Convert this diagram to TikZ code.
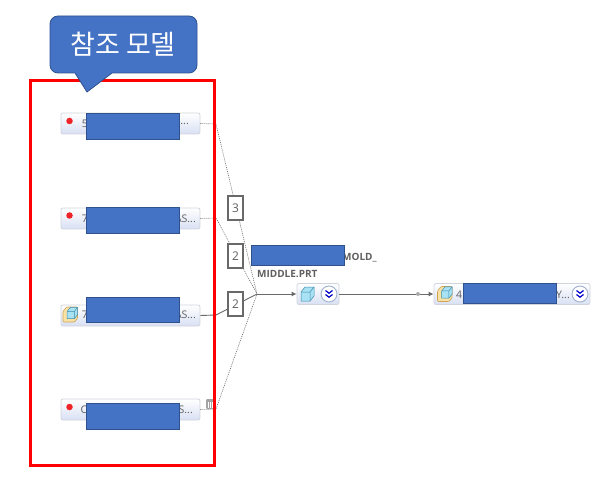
\documentclass[tikz,border=0pt]{standalone}
\usepackage{fontspec}
\setmainfont{Open Sans}
\newfontfamily\korfont{Noto Sans CJK KR}
\usetikzlibrary{arrows.meta}
\definecolor{HideBlue}{RGB}{68,114,196}
\definecolor{HideEdge}{RGB}{47,82,143}
\definecolor{PillEdge}{RGB}{208,212,220}
\definecolor{PillEnd}{RGB}{216,224,243}
\definecolor{LineGray}{RGB}{105,105,105}
\definecolor{TextGray}{RGB}{95,95,95}
\definecolor{DotRed}{RGB}{238,36,40}
\definecolor{CubeBlue}{RGB}{170,226,245}
\definecolor{CubeEdge}{RGB}{60,140,170}
\definecolor{PartYellow}{RGB}{250,226,165}
\definecolor{PartEdge}{RGB}{205,165,85}
\tikzset{pill/.style={draw=PillEdge,line width=0.8pt,rounded corners=2pt,top color=white,bottom color=PillEnd,minimum height=21pt,inner sep=0pt},
hide/.style={draw=HideEdge,line width=0.8pt,fill=HideBlue,minimum width=93pt,inner sep=0pt},
count/.style={draw=LineGray,line width=1.1pt,fill=white,minimum width=15pt,minimum height=24pt,inner sep=0pt,font=\fontsize{12}{12}\selectfont,text=TextGray},
lab/.style={inner sep=0pt,font=\fontsize{10.5}{12}\selectfont,text=TextGray},
dep/.style={draw=LineGray,line width=0.6pt,dash pattern=on 1pt off 1pt},
link/.style={draw=LineGray,line width=0.9pt},
flow/.style={draw=LineGray,line width=0.9pt,-{Latex[length=5pt,width=5pt]}},
reddot/.style={circle,fill=DotRed,minimum size=6.5pt,inner sep=0pt},
cube/.pic={\fill[CubeBlue,draw=CubeEdge,line width=0.5pt] (-6,-2) -- (-2,-7) -- (7,-7) -- (7,2) -- (3,7) -- (-6,7) -- cycle;
\draw[CubeEdge,line width=0.5pt] (-6,-2) -- (3,-2) -- (3,7) (3,-2) -- (7,-7);},
part/.pic={\fill[PartYellow,draw=PartEdge,line width=0.6pt,rounded corners=1pt] (-7.5,-3) -- (-4,-7.5) -- (7,-7.5) -- (7,4) -- (4,7.5) -- (-7.5,7.5) -- cycle;
\pic[scale=0.8] at (1.5,-1.5) {cube};},
chevron/.pic={\draw[HideEdge!45!white,fill=white,line width=0.9pt] (0,0) circle (8);
\draw[blue!80!black,line width=1.2pt] (-3.5,-3.5) -- (0,-0.8) -- (3.5,-3.5) (-3.5,0.5) -- (0,3.2) -- (3.5,0.5);}}
\begin{document}
\begin{tikzpicture}[x=1pt,y=-1pt]
\useasboundingbox (0,0) rectangle (602,486);
\coordinate (jn) at (257,294);
\coordinate (ea) at (216,124);
\coordinate (eb) at (216,218);
\coordinate (ec) at (216,315);
\coordinate (ed) at (216,409);
\node[pill,minimum width=139pt] (pa) at (130.5,123.5) {};
\node[pill,minimum width=139pt] (pb) at (130.5,218.5) {};
\node[pill,minimum width=139pt] (pc) at (130.5,315.5) {};
\node[pill,minimum width=139pt] (pd) at (130.5,409.5) {};
\node[pill,minimum width=42pt] (pm) at (318,294) {};
\node[pill,minimum width=156pt] (pr) at (512,294) {};
\draw[dep] (pa.east) -- (ea) -- (jn);
\draw[dep] (pb.east) -- (eb) -- (jn);
\draw[link] (pc.east) -- (ec) -- (jn);
\draw[dep] (pd.east) -- (ed) -- (jn);
\draw[flow] (jn) -- (pm.west);
\draw[flow] (pm.east) -- (pr.west);
\node[circle,fill=LineGray!55,minimum size=4pt,inner sep=0pt] (mk) at (418,294) {};
\node[count] (na) at (235.5,208) {3};
\node[count] (nb) at (235.5,256) {2};
\node[count] (nc) at (235.5,304) {2};
\node[reddot] (da) at (69.5,121) {};
\node[reddot] (db) at (69.5,215.5) {};
\node[reddot] (dd) at (69.5,407) {};
\pic at (70.5,314.5) {part};
\pic at (307,294) {cube};
\pic at (445,294) {part};
\pic at (329,294) {chevron};
\pic at (580,294) {chevron};
\node[lab] (ta) at (85,124) {5};
\node[lab] (tb) at (85,219) {7};
\node[lab] (tc) at (85,315) {7};
\node[lab] (td) at (84,410) {C};
\node[lab,anchor=east] (ua) at (189,124) {...};
\node[lab,anchor=east] (ub) at (196,219) {AS...};
\node[lab,anchor=east] (uc) at (196,315) {AS...};
\node[lab,anchor=east] (ud) at (193,410) {S...};
\node[lab] (tr) at (459,295) {4};
\node[lab,anchor=east] (ur) at (570,295) {Y...};
\node[lab,anchor=west,font=\fontsize{10}{11}\selectfont\bfseries] (tm) at (342,258) {MOLD\_};
\node[lab,anchor=west,font=\fontsize{10}{11}\selectfont\bfseries] (tn) at (257,273.5) {MIDDLE.PRT};
\node[hide,minimum height=26pt] (ha) at (132.5,126) {};
\node[hide,minimum height=26pt] (hb) at (132.5,220) {};
\node[hide,minimum height=25pt] (hc) at (132.5,309.5) {};
\node[hide,minimum height=26pt] (hd) at (132.5,416) {};
\node[hide,minimum height=20pt] (hm) at (297.5,255) {};
\node[hide,minimum height=20pt] (hr) at (509.5,293) {};
% waste bin mark
\fill[LineGray!60,rounded corners=1pt] (206,399) rectangle (214,409);
\draw[white,line width=0.4pt] (208,402) -- (208,408) (210,402) -- (210,408) (212,402) -- (212,408);
\node[draw=red,line width=3pt,minimum width=184pt,minimum height=384pt,inner sep=0pt] (frame) at (122,273) {};
\draw[draw=HideEdge,line width=0.8pt,fill=HideBlue] (75,73) -- (87,92) -- (112,73) [rounded corners=8pt] -- (197,73) -- (197,16) -- (50,16) -- (50,73) [sharp corners] -- cycle;
\node[inner sep=0pt,text=white,font=\korfont\fontsize{27}{27}\selectfont] (title) at (123,44.5) {참조 모델};
\end{tikzpicture}
\end{document}
